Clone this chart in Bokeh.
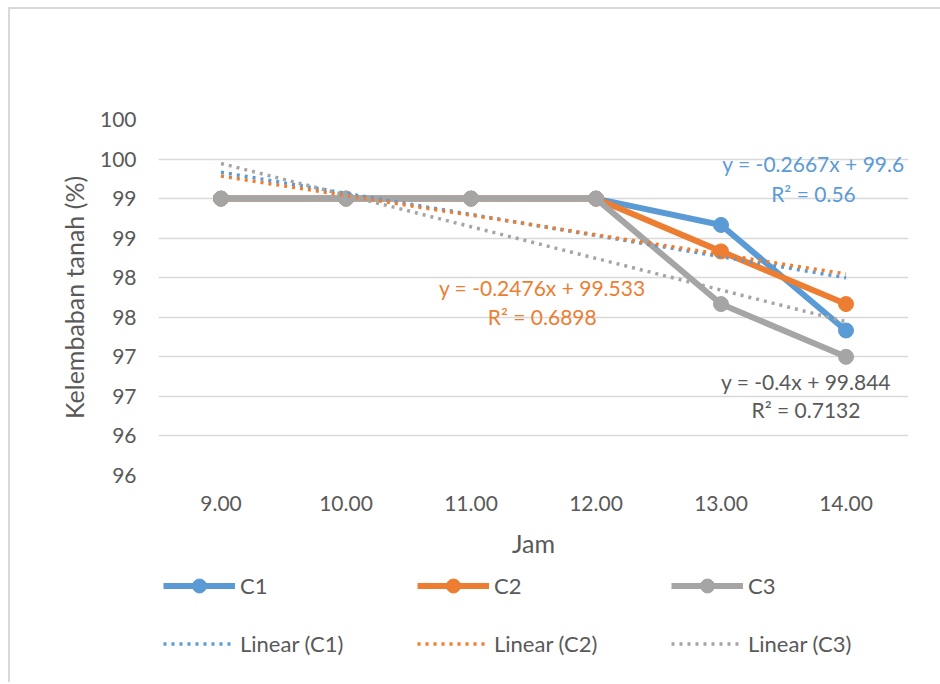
import numpy as np
from bokeh.plotting import figure
from bokeh.layouts import column
from bokeh.models import (FactorRange, Range1d, FixedTicker, Legend, LegendItem, Label)
from bokeh.embed import file_html
from bokeh.resources import INLINE

# ---- data ----
jam = ["9.00", "10.00", "11.00", "12.00", "13.00", "14.00"]
c1 = [99.0, 99.0, 99.0, 99.0, 98.667, 97.333]
c2 = [99.0, 99.0, 99.0, 99.0, 98.333, 97.667]
c3 = [99.0, 99.0, 99.0, 99.0, 97.667, 97.0]
series_names = ["C1", "C2", "C3"]
trend_names = ["Linear (C1)", "Linear (C2)", "Linear (C3)"]
y_ticks = [95.5, 96.0, 96.5, 97.0, 97.5, 98.0, 98.5, 99.0, 99.5, 100.0]
y_tick_labels = ["96", "96", "97", "97", "98", "98", "99", "99", "100", "100"]
eq_texts = ["y = -0.2667x + 99.6", "y = -0.2476x + 99.533", "y = -0.4x + 99.844"]
r2_texts = ["R\u00b2 = 0.56", "R\u00b2 = 0.6898", "R\u00b2 = 0.7132"]

colors = ["#5B9BD5", "#ED7D31", "#A5A5A5"]
label_colors = ["#5B9BD5", "#ED7D31", "#595959"]
FONT = "Lato"
TXT = "#595959"
BORDER = "2px solid #D9D9D9"

# ---- main chart ----
p = figure(width=932, height=558, output_backend="svg", toolbar_location=None,
           x_range=FactorRange(factors=jam), y_range=Range1d(95.5, 100.0),
           min_border_left=148, min_border_right=34, min_border_top=110,
           min_border_bottom=92, margin=(7, 0, 0, 8))
p.styles = {"border-left": BORDER, "border-top": BORDER}
p.outline_line_color = None
p.xgrid.visible = False
p.ygrid.grid_line_color = "#D9D9D9"
p.ygrid.grid_line_width = 1.3
p.yaxis.ticker = FixedTicker(ticks=y_ticks)
p.yaxis.major_label_overrides = {t: s for t, s in zip(y_ticks, y_tick_labels)}

for ax in (p.xaxis[0], p.yaxis[0]):
    ax.axis_line_color = None
    ax.major_tick_line_color = None
    ax.minor_tick_line_color = None
    ax.major_tick_out = 0
    ax.major_tick_in = 0
    ax.major_label_text_font = FONT
    ax.major_label_text_font_size = "21px"
    ax.major_label_text_color = TXT
    ax.axis_label_text_font = FONT
    ax.axis_label_text_font_size = "25px"
    ax.axis_label_text_font_style = "normal"
    ax.axis_label_text_color = TXT

p.yaxis.axis_label = "Kelembaban tanah (%)"
p.yaxis.major_label_standoff = 22
p.yaxis.axis_label_standoff = 8
p.xaxis.axis_label = "Jam"
p.xaxis.major_label_standoff = 20
p.xaxis.axis_label_standoff = 14

series = [c1, c2, c3]
for vals, col in zip(series, colors):
    p.line(jam, vals, line_color=col, line_width=6, line_join="round")
    p.scatter(jam, vals, size=15, fill_color=col, line_color=col)

xi = np.arange(1, len(jam) + 1)
fits = []
for vals, col in zip(series, colors):
    slope, icpt = np.polyfit(xi, np.array(vals), 1)
    fit = slope * xi + icpt
    fits.append(fit)
    p.line(jam, fit, line_color=col, line_width=3.5, line_dash="3 5")

# trendline equations
eq_pos = [(5.24, 99.44, 99.07), (3.07, 97.88, 97.51), (5.18, 96.69, 96.34)]
for (x, ye, yr), eq, r2, col in zip(eq_pos, eq_texts, r2_texts, label_colors):
    for yy, t in ((ye, eq), (yr, r2)):
        p.add_layout(Label(x=x, y=yy, text=t, text_align="center", text_baseline="middle",
                           text_font=FONT, text_font_size="21px", text_color=col))

# ---- legend strip ----
lf = figure(width=932, height=117, output_backend="svg", toolbar_location=None,
            x_range=FactorRange(factors=jam), y_range=Range1d(0, 1),
            x_axis_type=None, y_axis_type=None, min_border=0, margin=(0, 0, 0, 8))
lf.styles = {"border-left": BORDER}
lf.outline_line_color = None
lf.grid.visible = False

main_items, trend_items = [], []
for name, vals, col in zip(series_names, series, colors):
    lr = lf.line(jam, vals, line_color=col, line_width=6)
    sr = lf.scatter(jam, vals, size=15, fill_color=col, line_color=col)
    main_items.append(LegendItem(label=name, renderers=[lr, sr]))
for name, fit, col in zip(trend_names, fits, colors):
    tr = lf.line(jam, fit, line_color=col, line_width=3.5, line_dash="3 5")
    trend_items.append(LegendItem(label=name, renderers=[tr]))

for its, vy in ((main_items, 79.5), (trend_items, 21.5)):
    lg = Legend(items=its, orientation="horizontal", location=(5, vy),
                glyph_width=72, glyph_height=35, label_width=150, label_standoff=5,
                spacing=27, padding=0, margin=0, background_fill_alpha=0,
                border_line_color=None, label_text_font=FONT,
                label_text_font_size="22px", label_text_color=TXT)
    lf.add_layout(lg, "center")

layout = column(p, lf, spacing=0)
open("out.html", "w").write(file_html(layout, INLINE))
